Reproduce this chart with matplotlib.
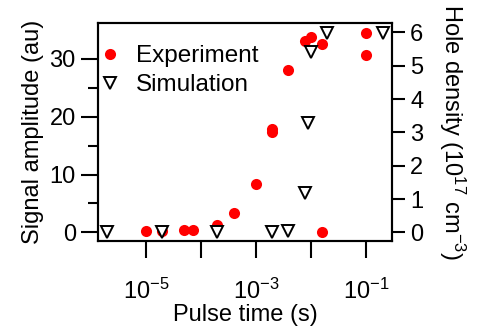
import numpy as np
import matplotlib
matplotlib.use("Agg")
import matplotlib.pyplot as plt
from matplotlib.ticker import FixedLocator, FuncFormatter, NullLocator

plt.rcParams['font.family'] = ['Liberation Sans', 'DejaVu Sans']
plt.rcParams['mathtext.default'] = 'regular'
plt.rcParams['axes.unicode_minus'] = False

# experiment: pulse time (s), signal amplitude (au)
exp_t = [1.0e-5, 2.0e-5, 4.9e-5, 7.1e-5, 2.0e-4, 4.0e-4, 1.0e-3, 2.0e-3, 2.0e-3,
         3.9e-3, 7.8e-3, 1.02e-2, 1.6e-2, 1.6e-2, 0.1, 0.1]
exp_amp = [0.2, 0.2, 0.5, 0.4, 1.3, 3.3, 8.3, 17.4, 17.8,
           28.0, 33.1, 33.8, 32.5, 0.0, 34.5, 30.7]

# simulation: pulse time (s), hole density (1e17 cm^-3)
sim_t = [2.0e-6, 2.0e-5, 2.0e-4, 2.0e-3, 3.9e-3, 7.9e-3, 8.9e-3, 1.0e-2, 2.0e-2, 0.2]
sim_n = [0.0, 0.0, 0.0, 0.0, 0.04, 1.17, 3.27, 5.4, 5.97, 5.97]

x_decades = [-6, -5, -4, -3, -2, -1, 0]
x_labeled = [-5, -3, -1]

fig = plt.figure(figsize=(4.78, 3.28), dpi=100)
ax = fig.add_axes([0.205, 0.265, 0.615, 0.665])
ax2 = ax.twinx()

ax.plot(exp_t, exp_amp, 'o', color='#ff0000', markersize=8, markeredgewidth=0,
        label='Experiment', zorder=3)
ax2.plot(sim_t, sim_n, 'v', markerfacecolor='white', markeredgecolor='black',
         markersize=8.5, markeredgewidth=1.4, label='Simulation', zorder=3)

ax.set_xscale('log')
ax.set_xlim(1.35e-6, 0.297)
ax.set_ylim(-1.5, 36.2)
ax2.set_ylim(-0.26, 6.28)

ax.xaxis.set_major_locator(FixedLocator([10.0 ** d for d in x_decades]))
ax.xaxis.set_minor_locator(NullLocator())
ax.xaxis.set_major_formatter(FuncFormatter(
    lambda v, p: '10$^{%d}$' % round(np.log10(v)) if round(np.log10(v)) in x_labeled else ''))

ax.set_yticks([0, 10, 20, 30])
ax.set_yticks([5, 15, 25], minor=True)
ax2.set_yticks(range(7))

fs = 17
for a in (ax, ax2):
    for s in a.spines.values():
        s.set_linewidth(1.5)
ax.tick_params(axis='x', which='major', direction='out', length=12, width=1.5,
               labelsize=fs, pad=15)
ax.tick_params(axis='y', which='major', direction='out', length=12, width=1.5,
               labelsize=fs, pad=4)
ax.tick_params(axis='y', which='minor', direction='out', length=7, width=1.5)
ax2.tick_params(axis='y', direction='out', length=9, width=1.5, labelsize=fs, pad=4)

ax.set_xlabel('Pulse time (s)', fontsize=fs, labelpad=0)
ax.set_ylabel('Signal amplitude (au)', fontsize=fs, labelpad=4)
ax2.set_ylabel('Hole density (10$^{17}$ cm$^{-3}$)', fontsize=fs, rotation=270,
               va='bottom', labelpad=10)

h1, l1 = ax.get_legend_handles_labels()
h2, l2 = ax2.get_legend_handles_labels()
ax2.legend(h1 + h2, l1 + l2, loc='upper left', bbox_to_anchor=(-0.06, 0.965),
           frameon=False, fontsize=17.5, handletextpad=0.5, labelspacing=0.3,
           handlelength=1.2, borderaxespad=0.2)

fig.savefig('out.png', dpi=100)
